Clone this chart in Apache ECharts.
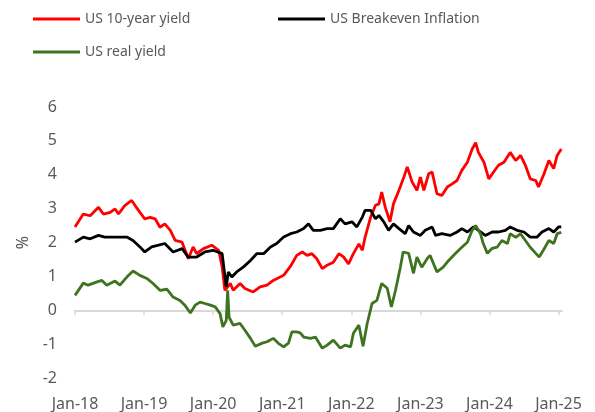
<!DOCTYPE html>
<html>
<head>
<meta charset="utf-8">
<script src="https://cdn.jsdelivr.net/npm/echarts@6/dist/echarts.min.js"></script>
<style>
  html, body { margin: 0; padding: 0; background: #fff; }
  #chart { width: 595px; height: 412px; }
</style>
</head>
<body>
<div id="chart"></div>
<script>
// x = decimal year, y = %
var seriesNames = ['US 10-year yield', 'US Breakeven Inflation', 'US real yield'];
var yearTicks = [2018, 2019, 2020, 2021, 2022, 2023, 2024, 2025];

var tenYear = [
  [2018.00, 2.46], [2018.12, 2.84], [2018.22, 2.79], [2018.34, 3.04], [2018.41, 2.84], [2018.51, 2.89],
  [2018.58, 2.99], [2018.63, 2.84], [2018.72, 3.09], [2018.82, 3.24], [2018.87, 3.09], [2018.94, 2.89],
  [2019.01, 2.70], [2019.09, 2.74], [2019.16, 2.70], [2019.23, 2.45], [2019.30, 2.55], [2019.38, 2.36],
  [2019.45, 2.06], [2019.55, 2.01], [2019.64, 1.52], [2019.71, 1.87], [2019.76, 1.67], [2019.86, 1.82],
  [2019.98, 1.92], [2020.08, 1.77], [2020.13, 1.28], [2020.17, 0.59], [2020.25, 0.79], [2020.29, 0.59],
  [2020.39, 0.79], [2020.46, 0.64], [2020.58, 0.54], [2020.68, 0.69], [2020.78, 0.74], [2020.87, 0.88],
  [2021.02, 1.03], [2021.12, 1.30], [2021.21, 1.62], [2021.29, 1.72], [2021.36, 1.62], [2021.43, 1.67],
  [2021.50, 1.52], [2021.58, 1.23], [2021.65, 1.33], [2021.74, 1.42], [2021.82, 1.67], [2021.89, 1.57],
  [2021.96, 1.37], [2022.03, 1.67], [2022.11, 1.96], [2022.16, 1.77], [2022.20, 2.16], [2022.28, 2.75],
  [2022.35, 3.10], [2022.40, 3.14], [2022.44, 3.49], [2022.49, 3.05], [2022.56, 2.61], [2022.61, 3.14],
  [2022.69, 3.54], [2022.76, 3.93], [2022.81, 4.23], [2022.88, 3.79], [2022.95, 3.54], [2023.00, 3.93],
  [2023.05, 3.54], [2023.12, 4.03], [2023.17, 4.08], [2023.24, 3.44], [2023.31, 3.39], [2023.39, 3.64],
  [2023.46, 3.73], [2023.53, 3.83], [2023.60, 4.13], [2023.68, 4.37], [2023.75, 4.76], [2023.80, 4.95],
  [2023.84, 4.66], [2023.92, 4.37], [2023.99, 3.88], [2024.06, 4.08], [2024.13, 4.28], [2024.21, 4.37],
  [2024.30, 4.66], [2024.38, 4.42], [2024.45, 4.57], [2024.52, 4.28], [2024.59, 3.88], [2024.67, 3.83],
  [2024.71, 3.64], [2024.79, 4.03], [2024.86, 4.42], [2024.93, 4.18], [2024.98, 4.57], [2025.04, 4.76]
];

var breakeven = [
  [2018.00, 2.01], [2018.12, 2.16], [2018.22, 2.11], [2018.34, 2.21], [2018.43, 2.16], [2018.58, 2.16],
  [2018.75, 2.16], [2018.84, 2.06], [2018.94, 1.87], [2019.01, 1.72], [2019.11, 1.87], [2019.21, 1.92],
  [2019.30, 1.97], [2019.42, 1.72], [2019.55, 1.82], [2019.64, 1.57], [2019.76, 1.57], [2019.88, 1.72],
  [2020.00, 1.77], [2020.13, 1.67], [2020.19, 0.69], [2020.22, 1.13], [2020.27, 0.98], [2020.34, 1.13],
  [2020.44, 1.28], [2020.54, 1.47], [2020.63, 1.67], [2020.73, 1.67], [2020.83, 1.87], [2020.92, 1.97],
  [2021.02, 2.16], [2021.12, 2.26], [2021.21, 2.31], [2021.31, 2.41], [2021.38, 2.55], [2021.45, 2.36],
  [2021.55, 2.36], [2021.65, 2.41], [2021.74, 2.41], [2021.84, 2.70], [2021.91, 2.55], [2022.01, 2.61],
  [2022.08, 2.46], [2022.16, 2.75], [2022.20, 2.95], [2022.28, 2.95], [2022.35, 2.70], [2022.40, 2.80],
  [2022.47, 2.61], [2022.54, 2.36], [2022.61, 2.55], [2022.69, 2.41], [2022.78, 2.26], [2022.83, 2.50],
  [2022.90, 2.31], [2023.00, 2.21], [2023.07, 2.36], [2023.17, 2.46], [2023.22, 2.21], [2023.31, 2.26],
  [2023.43, 2.21], [2023.53, 2.31], [2023.60, 2.41], [2023.68, 2.31], [2023.77, 2.46], [2023.84, 2.36],
  [2023.94, 2.21], [2024.04, 2.31], [2024.13, 2.31], [2024.23, 2.36], [2024.30, 2.46], [2024.40, 2.36],
  [2024.50, 2.31], [2024.59, 2.16], [2024.69, 2.16], [2024.76, 2.31], [2024.86, 2.41], [2024.93, 2.31],
  [2025.00, 2.46], [2025.04, 2.46]
];

var realYield = [
  [2018.00, 0.44], [2018.12, 0.80], [2018.19, 0.74], [2018.31, 0.83], [2018.39, 0.88], [2018.46, 0.74],
  [2018.58, 0.86], [2018.65, 0.74], [2018.75, 0.98], [2018.84, 1.16], [2018.94, 1.03], [2019.04, 0.94],
  [2019.13, 0.79], [2019.23, 0.59], [2019.33, 0.62], [2019.42, 0.39], [2019.52, 0.29], [2019.59, 0.15],
  [2019.67, -0.08], [2019.74, 0.15], [2019.81, 0.24], [2019.88, 0.20], [2019.96, 0.15], [2020.03, 0.10],
  [2020.10, -0.10], [2020.14, -0.49], [2020.19, -0.30], [2020.21, 0.59], [2020.23, -0.20], [2020.29, -0.44],
  [2020.39, -0.39], [2020.46, -0.59], [2020.54, -0.83], [2020.61, -1.06], [2020.71, -0.97], [2020.78, -0.93],
  [2020.87, -0.83], [2020.94, -0.97], [2021.02, -1.08], [2021.09, -0.97], [2021.14, -0.64], [2021.21, -0.64],
  [2021.26, -0.67], [2021.31, -0.79], [2021.41, -0.83], [2021.48, -0.79], [2021.58, -1.12], [2021.65, -1.03],
  [2021.74, -0.88], [2021.84, -1.12], [2021.91, -1.03], [2021.99, -1.08], [2022.03, -0.68], [2022.11, -0.44],
  [2022.17, -1.06], [2022.23, -0.39], [2022.30, 0.20], [2022.37, 0.29], [2022.44, 0.79], [2022.52, 0.65],
  [2022.58, 0.10], [2022.64, 0.59], [2022.71, 1.27], [2022.75, 1.72], [2022.83, 1.68], [2022.90, 1.09],
  [2022.95, 1.57], [2023.02, 1.27], [2023.10, 1.53], [2023.14, 1.62], [2023.24, 1.13], [2023.33, 1.27],
  [2023.41, 1.47], [2023.51, 1.68], [2023.60, 1.86], [2023.68, 2.01], [2023.75, 2.36], [2023.80, 2.50],
  [2023.87, 2.26], [2023.91, 1.97], [2023.97, 1.68], [2024.04, 1.83], [2024.11, 1.86], [2024.18, 2.06],
  [2024.26, 1.97], [2024.30, 2.26], [2024.38, 2.15], [2024.45, 2.26], [2024.52, 2.06], [2024.59, 1.86],
  [2024.67, 1.68], [2024.72, 1.57], [2024.78, 1.77], [2024.86, 2.06], [2024.93, 1.97], [2024.98, 2.26],
  [2025.04, 2.30]
];

var colors = ['#ff0000', '#000000', '#3e7320'];
var textColor = '#595959';
var font = 'Noto Sans';

var chart = echarts.init(document.getElementById('chart'), null, { renderer: 'canvas' });

function legendAt(name, left, top) {
  return {
    data: [name],
    left: left,
    top: top,
    padding: 0,
    icon: 'rect',
    itemWidth: 47,
    itemHeight: 3,
    selectedMode: false,
    textStyle: { color: textColor, fontSize: 14, fontFamily: font }
  };
}

var option = {
  backgroundColor: '#ffffff',
  animation: false,
  color: colors,
  legend: [
    legendAt(seriesNames[0], 33, 12),
    legendAt(seriesNames[1], 278, 12),
    legendAt(seriesNames[2], 33, 45)
  ],
  grid: { left: 75, right: 33, top: 107, bottom: 34 },
  xAxis: [{
    // zero line with ticks
    type: 'value',
    min: 2018,
    max: 2025.05,
    axisLine: { onZero: true, lineStyle: { color: '#d9d9d9', width: 2 } },
    axisTick: { show: true, length: 5, customValues: yearTicks, lineStyle: { color: '#d9d9d9', width: 1.5 } },
    axisLabel: { show: false },
    splitLine: { show: false }
  }, {
    // labels at the bottom
    type: 'value',
    position: 'bottom',
    min: 2018,
    max: 2025.05,
    axisLine: { show: false, onZero: false },
    axisTick: { show: false },
    splitLine: { show: false },
    axisLabel: {
      customValues: yearTicks,
      margin: 18,
      color: textColor,
      fontSize: 16,
      fontFamily: font,
      formatter: function (v) { return 'Jan-' + String(Math.round(v)).slice(2); }
    }
  }],
  yAxis: {
    type: 'value',
    min: -2,
    max: 6,
    interval: 1,
    name: '%',
    nameLocation: 'middle',
    nameGap: 43,
    nameTextStyle: { color: textColor, fontSize: 16, fontFamily: font },
    axisLine: { show: false },
    axisTick: { show: false },
    splitLine: { show: false },
    axisLabel: { margin: 18, color: textColor, fontSize: 16, fontFamily: font }
  },
  series: [
    { name: seriesNames[0], type: 'line', data: tenYear, showSymbol: false, symbol: 'none', lineStyle: { width: 2.8, color: colors[0] } },
    { name: seriesNames[1], type: 'line', data: breakeven, showSymbol: false, symbol: 'none', lineStyle: { width: 2.8, color: colors[1] } },
    { name: seriesNames[2], type: 'line', data: realYield, showSymbol: false, symbol: 'none', lineStyle: { width: 2.8, color: colors[2] } }
  ]
};

chart.setOption(option);
</script>
</body>
</html>
